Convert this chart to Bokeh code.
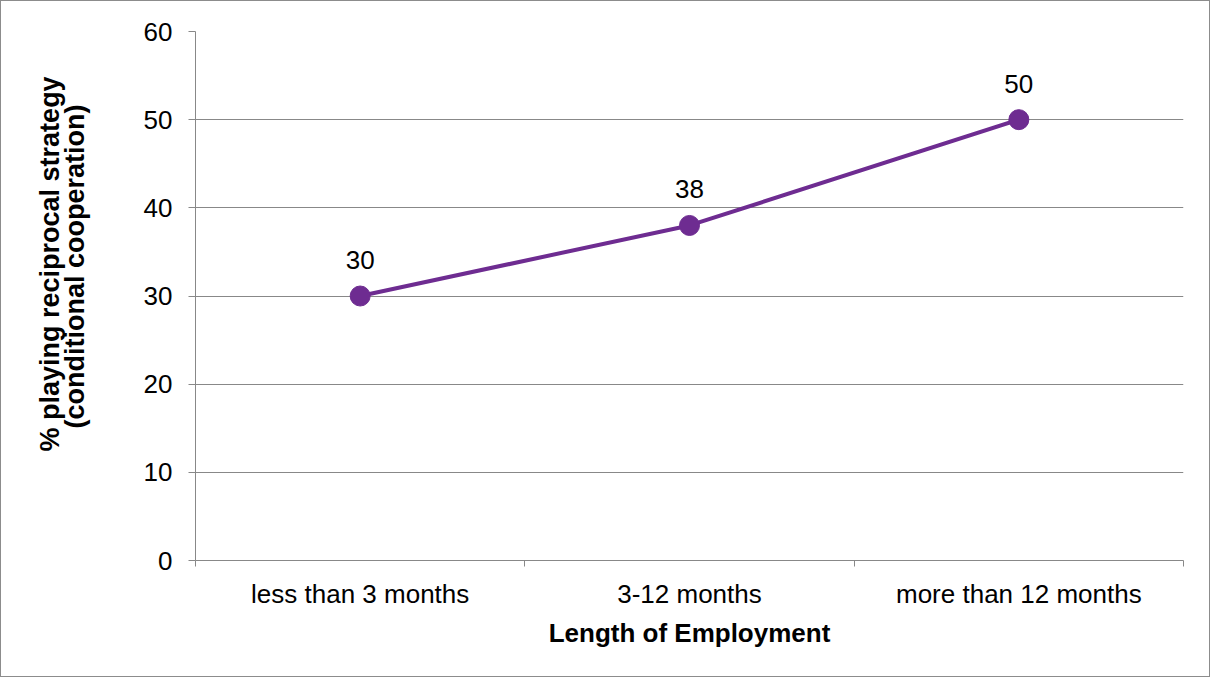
from bokeh.plotting import figure
from bokeh.models import Range1d, FixedTicker, ColumnDataSource, LabelSet, Title
from bokeh.core.properties import value
from bokeh.embed import file_html
from bokeh.resources import INLINE

# Share of participants playing the reciprocal strategy, by tenure
categories = ["less than 3 months", "3-12 months", "more than 12 months"]
percent = [30, 38, 50]
y_ticks = [0, 10, 20, 30, 40, 50, 60]

PURPLE = "#6E2C91"
GREY = "#888888"
FONT = "Liberation Sans"

xpos = [i + 0.5 for i in range(len(categories))]
src = ColumnDataSource(dict(x=xpos, y=percent, lbl=[str(v) for v in percent]))

p = figure(width=1210, height=677, output_backend="svg", toolbar_location=None,
           x_range=Range1d(0, len(categories)), y_range=Range1d(0, 60),
           min_border_left=194, min_border_right=28, min_border_top=30, min_border_bottom=118)
p.styles = {"border": "1px solid #8c8c8c"}
p.outline_line_color = None
p.background_fill_color = "white"
p.border_fill_color = "white"

# x axis: category names centred, tick marks at category boundaries
xa = p.xaxis[0]
xa.ticker = FixedTicker(ticks=xpos, minor_ticks=list(range(len(categories) + 1)))
xa.major_label_overrides = {x: c for x, c in zip(xpos, categories)}
xa.major_tick_line_color = None
xa.major_tick_out = 0
xa.minor_tick_line_color = GREY
xa.minor_tick_out = 6
xa.minor_tick_in = 0
xa.axis_line_color = GREY
xa.major_label_text_font = FONT
xa.major_label_text_font_size = "26px"
xa.major_label_text_color = "black"
xa.major_label_standoff = 12
xa.axis_label = "Length of Employment"
xa.axis_label_text_font = FONT
xa.axis_label_text_font_style = "bold"
xa.axis_label_text_font_size = "26px"
xa.axis_label_text_color = "black"
xa.axis_label_standoff = 6

ya = p.yaxis[0]
ya.ticker = FixedTicker(ticks=y_ticks)
ya.minor_tick_line_color = None
ya.major_tick_line_color = GREY
ya.major_tick_out = 7
ya.major_tick_in = 0
ya.axis_line_color = GREY
ya.major_label_text_font = FONT
ya.major_label_text_font_size = "26px"
ya.major_label_text_color = "black"
ya.major_label_standoff = 16

p.xgrid.grid_line_color = None
p.ygrid.ticker = FixedTicker(ticks=y_ticks)
p.ygrid.grid_line_color = GREY
p.ygrid.grid_line_width = 1

# empty panel that opens a gap between the tick labels and the y title
p.add_layout(Title(text=" ", text_font_size="10px", standoff=41), "left")

# two-line rotated y-axis title, one tight panel per line (inner line first)
y_title = [("(conditional cooperation)", 132), ("% playing reciprocal strategy", 109)]
for txt, off in y_title:
    p.add_layout(Title(text=txt, align="left", offset=off, standoff=-7,
                       text_font=FONT, text_font_style="bold", text_font_size="27px",
                       text_color="black"), "left")

p.line("x", "y", source=src, line_color=PURPLE, line_width=4)
p.scatter("x", "y", source=src, size=20, fill_color=PURPLE, line_color=PURPLE)

p.add_layout(LabelSet(x="x", y="y", text="lbl", source=src, y_offset=27,
                      text_align="center", text_baseline="alphabetic",
                      text_font=value(FONT), text_font_size=value("26px"),
                      text_color="black"))

open("out.html", "w").write(file_html(p, INLINE))
